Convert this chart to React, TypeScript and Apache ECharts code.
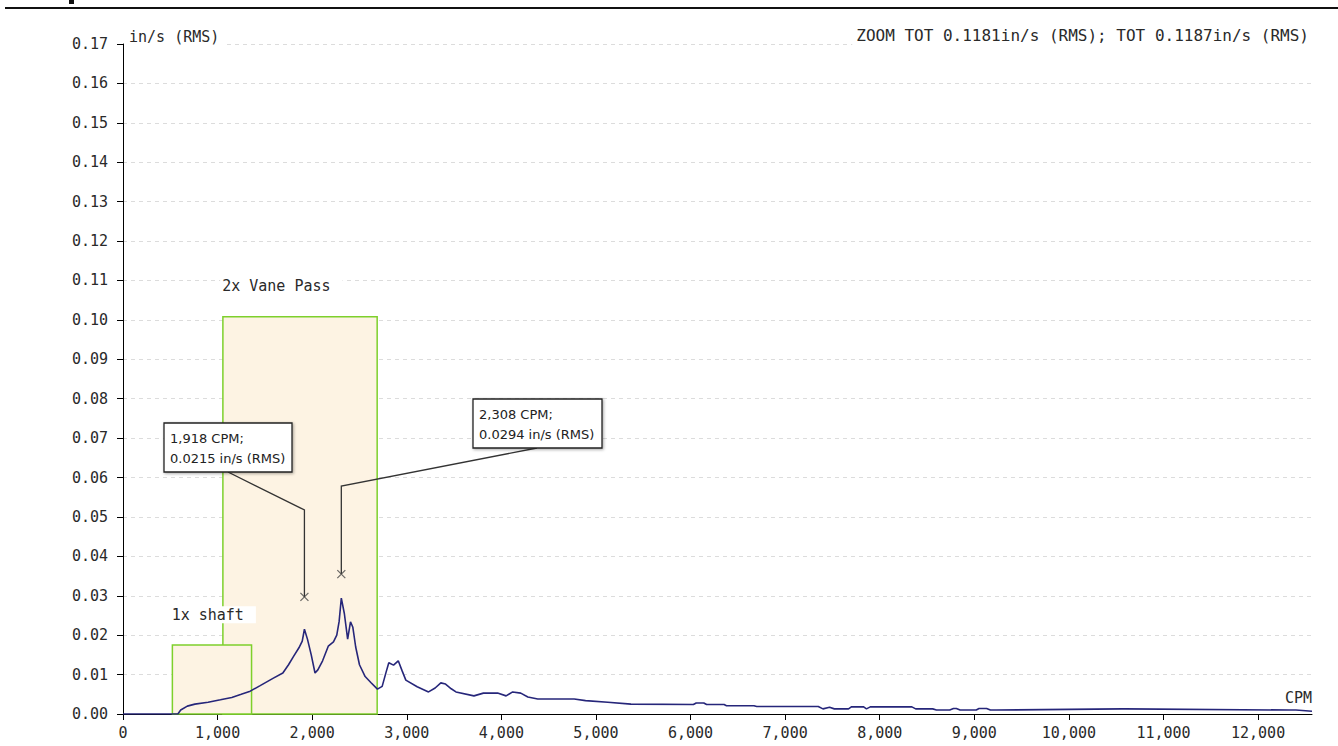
import React, { useEffect, useRef } from "react";
import * as echarts from "echarts";

// Spectrum (CPM vs velocity in/s RMS)
const cpm = [
  0, 520, 580, 610, 680, 760, 900, 1030, 1150, 1250, 1345, 1450, 1590, 1690, 1750, 1800, 1860, 1895,
  1918, 1950, 1990, 2030, 2060, 2110, 2170, 2225, 2260, 2285, 2308, 2340, 2375, 2405, 2430, 2460,
  2500, 2560, 2620, 2690, 2740, 2780, 2810, 2860, 2910, 2950, 2990, 3110, 3230, 3300, 3360, 3410,
  3470, 3520, 3710, 3810, 3960, 4050, 4120, 4205, 4280, 4385, 4770, 4890, 5125, 5370, 6030, 6060,
  6140, 6170, 6355, 6380, 6670, 6700, 7350, 7400, 7470, 7520, 7670, 7700, 7830, 7860, 7900, 8340,
  8380, 8560, 8600, 8740, 8780, 8810, 8850, 9020, 9050, 9130, 9170, 9230, 10560, 10600, 12330, 12400,
  12570,
];
const amp = [
  0, 0, 0, 0.001, 0.002, 0.0025, 0.003, 0.0036, 0.0042, 0.005, 0.0058, 0.0072, 0.0091, 0.0104, 0.0125,
  0.0145, 0.0168, 0.0185, 0.0215, 0.019, 0.015, 0.0104, 0.0112, 0.0135, 0.0172, 0.0183, 0.02, 0.0235,
  0.0294, 0.0255, 0.019, 0.0234, 0.022, 0.017, 0.0125, 0.0095, 0.008, 0.0063, 0.007, 0.0105, 0.013,
  0.0124, 0.0135, 0.011, 0.0086, 0.0069, 0.0056, 0.0066, 0.0079, 0.0076, 0.0064, 0.0056, 0.0046,
  0.0053, 0.0053, 0.0046, 0.0056, 0.0053, 0.0043, 0.0038, 0.0038, 0.0034, 0.003, 0.0025, 0.0024,
  0.0028, 0.0028, 0.0024, 0.0024, 0.0021, 0.0021, 0.0019, 0.0019, 0.0013, 0.0017, 0.0013, 0.0013,
  0.0018, 0.0018, 0.0013, 0.0018, 0.0018, 0.0013, 0.0013, 0.001, 0.001, 0.0014, 0.0014, 0.001, 0.001,
  0.0014, 0.0014, 0.001, 0.001, 0.0013, 0.0013, 0.001, 0.001, 0.0007, 0.0007,
];

const xTicks = [0, 1000, 2000, 3000, 4000, 5000, 6000, 7000, 8000, 9000, 10000, 11000, 12000];

// Frequency bands
const bandNames = ["2x Vane Pass", "1x shaft"];
const bandStart = [1056, 522];
const bandEnd = [2687, 1359];
const bandTop = [0.1008, 0.0175];

// Peak annotations
const peakCpm = [1918, 2308];
const peakAmp = [0.0215, 0.0294];
const markerAmp = [0.0297, 0.0355];

const totalText = "ZOOM TOT 0.1181in/s (RMS); TOT 0.1187in/s (RMS)";

const MONO = "'DejaVu Sans Mono', monospace";

export default function App() {
  const ref = useRef<HTMLDivElement>(null);
  useEffect(() => {
    const el = ref.current!;
    const chart = echarts.init(el, null, { renderer: "svg" });
    const monoStyle = { fontFamily: MONO, fontSize: 15, color: "#2a2a2a" };
    const option: any = {
      animation: false,
      grid: { left: 123, right: 26, top: 44, bottom: 32 },
      xAxis: {
        type: "value",
        min: 0,
        max: 12570,
        interval: 1000,
        name: "CPM",
        nameLocation: "end",
        nameGap: 0,
        nameTextStyle: { ...monoStyle, align: "right", verticalAlign: "bottom", padding: [0, 0, 9, 0] },
        axisLine: { lineStyle: { color: "#000", width: 1 } },
        axisTick: { customValues: xTicks, length: 6, lineStyle: { color: "#000" } },
        axisLabel: {
          customValues: xTicks,
          ...monoStyle,
          margin: 11,
          formatter: (v: number) => v.toLocaleString("en-US"),
        },
        splitLine: { show: false },
      },
      yAxis: {
        type: "value",
        min: 0,
        max: 0.17,
        interval: 0.01,
        name: "in/s (RMS)",
        nameLocation: "end",
        nameGap: -2,
        nameTextStyle: {
          ...monoStyle,
          align: "left",
          verticalAlign: "bottom",
          backgroundColor: "#fff",
          padding: [0, 6, 2, 6],
        },
        axisLine: { show: true, lineStyle: { color: "#000", width: 1 } },
        axisTick: { show: true, length: 6, lineStyle: { color: "#000" } },
        axisLabel: { ...monoStyle, margin: 15, formatter: (v: number) => v.toFixed(2) },
        splitLine: { show: true, lineStyle: { color: "#dcdcdc", type: [4, 4], width: 1 } },
      },
      series: [
        {
          type: "line",
          data: cpm.map((c, i) => [c, amp[i]]),
          showSymbol: false,
          symbol: "none",
          lineStyle: { color: "#26267a", width: 1.6 },
          z: 5,
          silent: true,
          markArea: {
            silent: true,
            itemStyle: { color: "#fdf3e3", borderColor: "#7ed02c", borderWidth: 1.5 },
            label: {
              show: true,
              position: [-2, -38],
              ...monoStyle,
              backgroundColor: "#fff",
              padding: [1, 12, 1, 2],
            },
            data: bandNames.map((n, i) => [
              { name: n, xAxis: bandStart[i], yAxis: 0 },
              { xAxis: bandEnd[i], yAxis: bandTop[i] },
            ]),
          },
        },
        {
          type: "scatter",
          data: peakCpm.map((c, i) => [c, markerAmp[i]]),
          symbol: "path://M0,0L10,10M10,0L0,10",
          symbolSize: 8,
          itemStyle: { color: "rgba(0,0,0,0)", borderColor: "#444", borderWidth: 1.2 },
          z: 60,
          silent: true,
        },
      ],
    };
    chart.setOption(option);

    const boxes = [
      { x: 164, y: 423, w: 128, h: 49, anchor: [228, 472], elbowY: 510 },
      { x: 473, y: 399, w: 129, h: 49, anchor: [537, 448], elbowY: 486 },
    ];
    const g: any[] = [
      { type: "line", shape: { x1: 5, y1: 8, x2: 1338, y2: 8 }, style: { stroke: "#111", lineWidth: 2 }, z: 100 },
      { type: "rect", shape: { x: 69, y: 0, width: 5, height: 4 }, style: { fill: "#111" }, z: 100 },
      {
        type: "text",
        right: 27,
        top: 26,
        style: {
          text: totalText,
          fontFamily: MONO,
          fontSize: 16,
          fill: "#2a2a2a",
          backgroundColor: "#fff",
          padding: [1, 2, 2, 4],
        },
        z: 100,
      },
    ];
    peakCpm.forEach((c, i) => {
      const p = chart.convertToPixel({ gridIndex: 0 }, [c, markerAmp[i]]) as number[];
      const b = boxes[i];
      g.push({
        type: "polyline",
        shape: { points: [b.anchor, [p[0], b.elbowY], [p[0], p[1]]] },
        style: { stroke: "#333", lineWidth: 1.3, fill: null },
        z: 50,
      });
      g.push({
        type: "rect",
        shape: { x: b.x, y: b.y, width: b.w, height: b.h },
        style: {
          fill: "#fff",
          stroke: "#222",
          lineWidth: 1.3,
          shadowBlur: 3,
          shadowOffsetX: 1,
          shadowOffsetY: 1,
          shadowColor: "rgba(0,0,0,0.35)",
        },
        z: 51,
      });
      g.push({
        type: "text",
        x: b.x + 6,
        y: b.y + 5,
        style: {
          text: `${c.toLocaleString("en-US")} CPM;\n${peakAmp[i].toFixed(4)} in/s (RMS)`,
          fontFamily: "'DejaVu Sans', sans-serif",
          fontSize: 13,
          lineHeight: 20,
          fill: "#222",
          verticalAlign: "top",
          align: "left",
        },
        z: 52,
      });
    });
    chart.setOption({ graphic: g });

    return () => chart.dispose();
  }, []);
  return (
    <div
      ref={ref}
      style={{ position: "absolute", left: 0, top: 0, width: 1338, height: 746, background: "#fff" }}
    />
  );
}
